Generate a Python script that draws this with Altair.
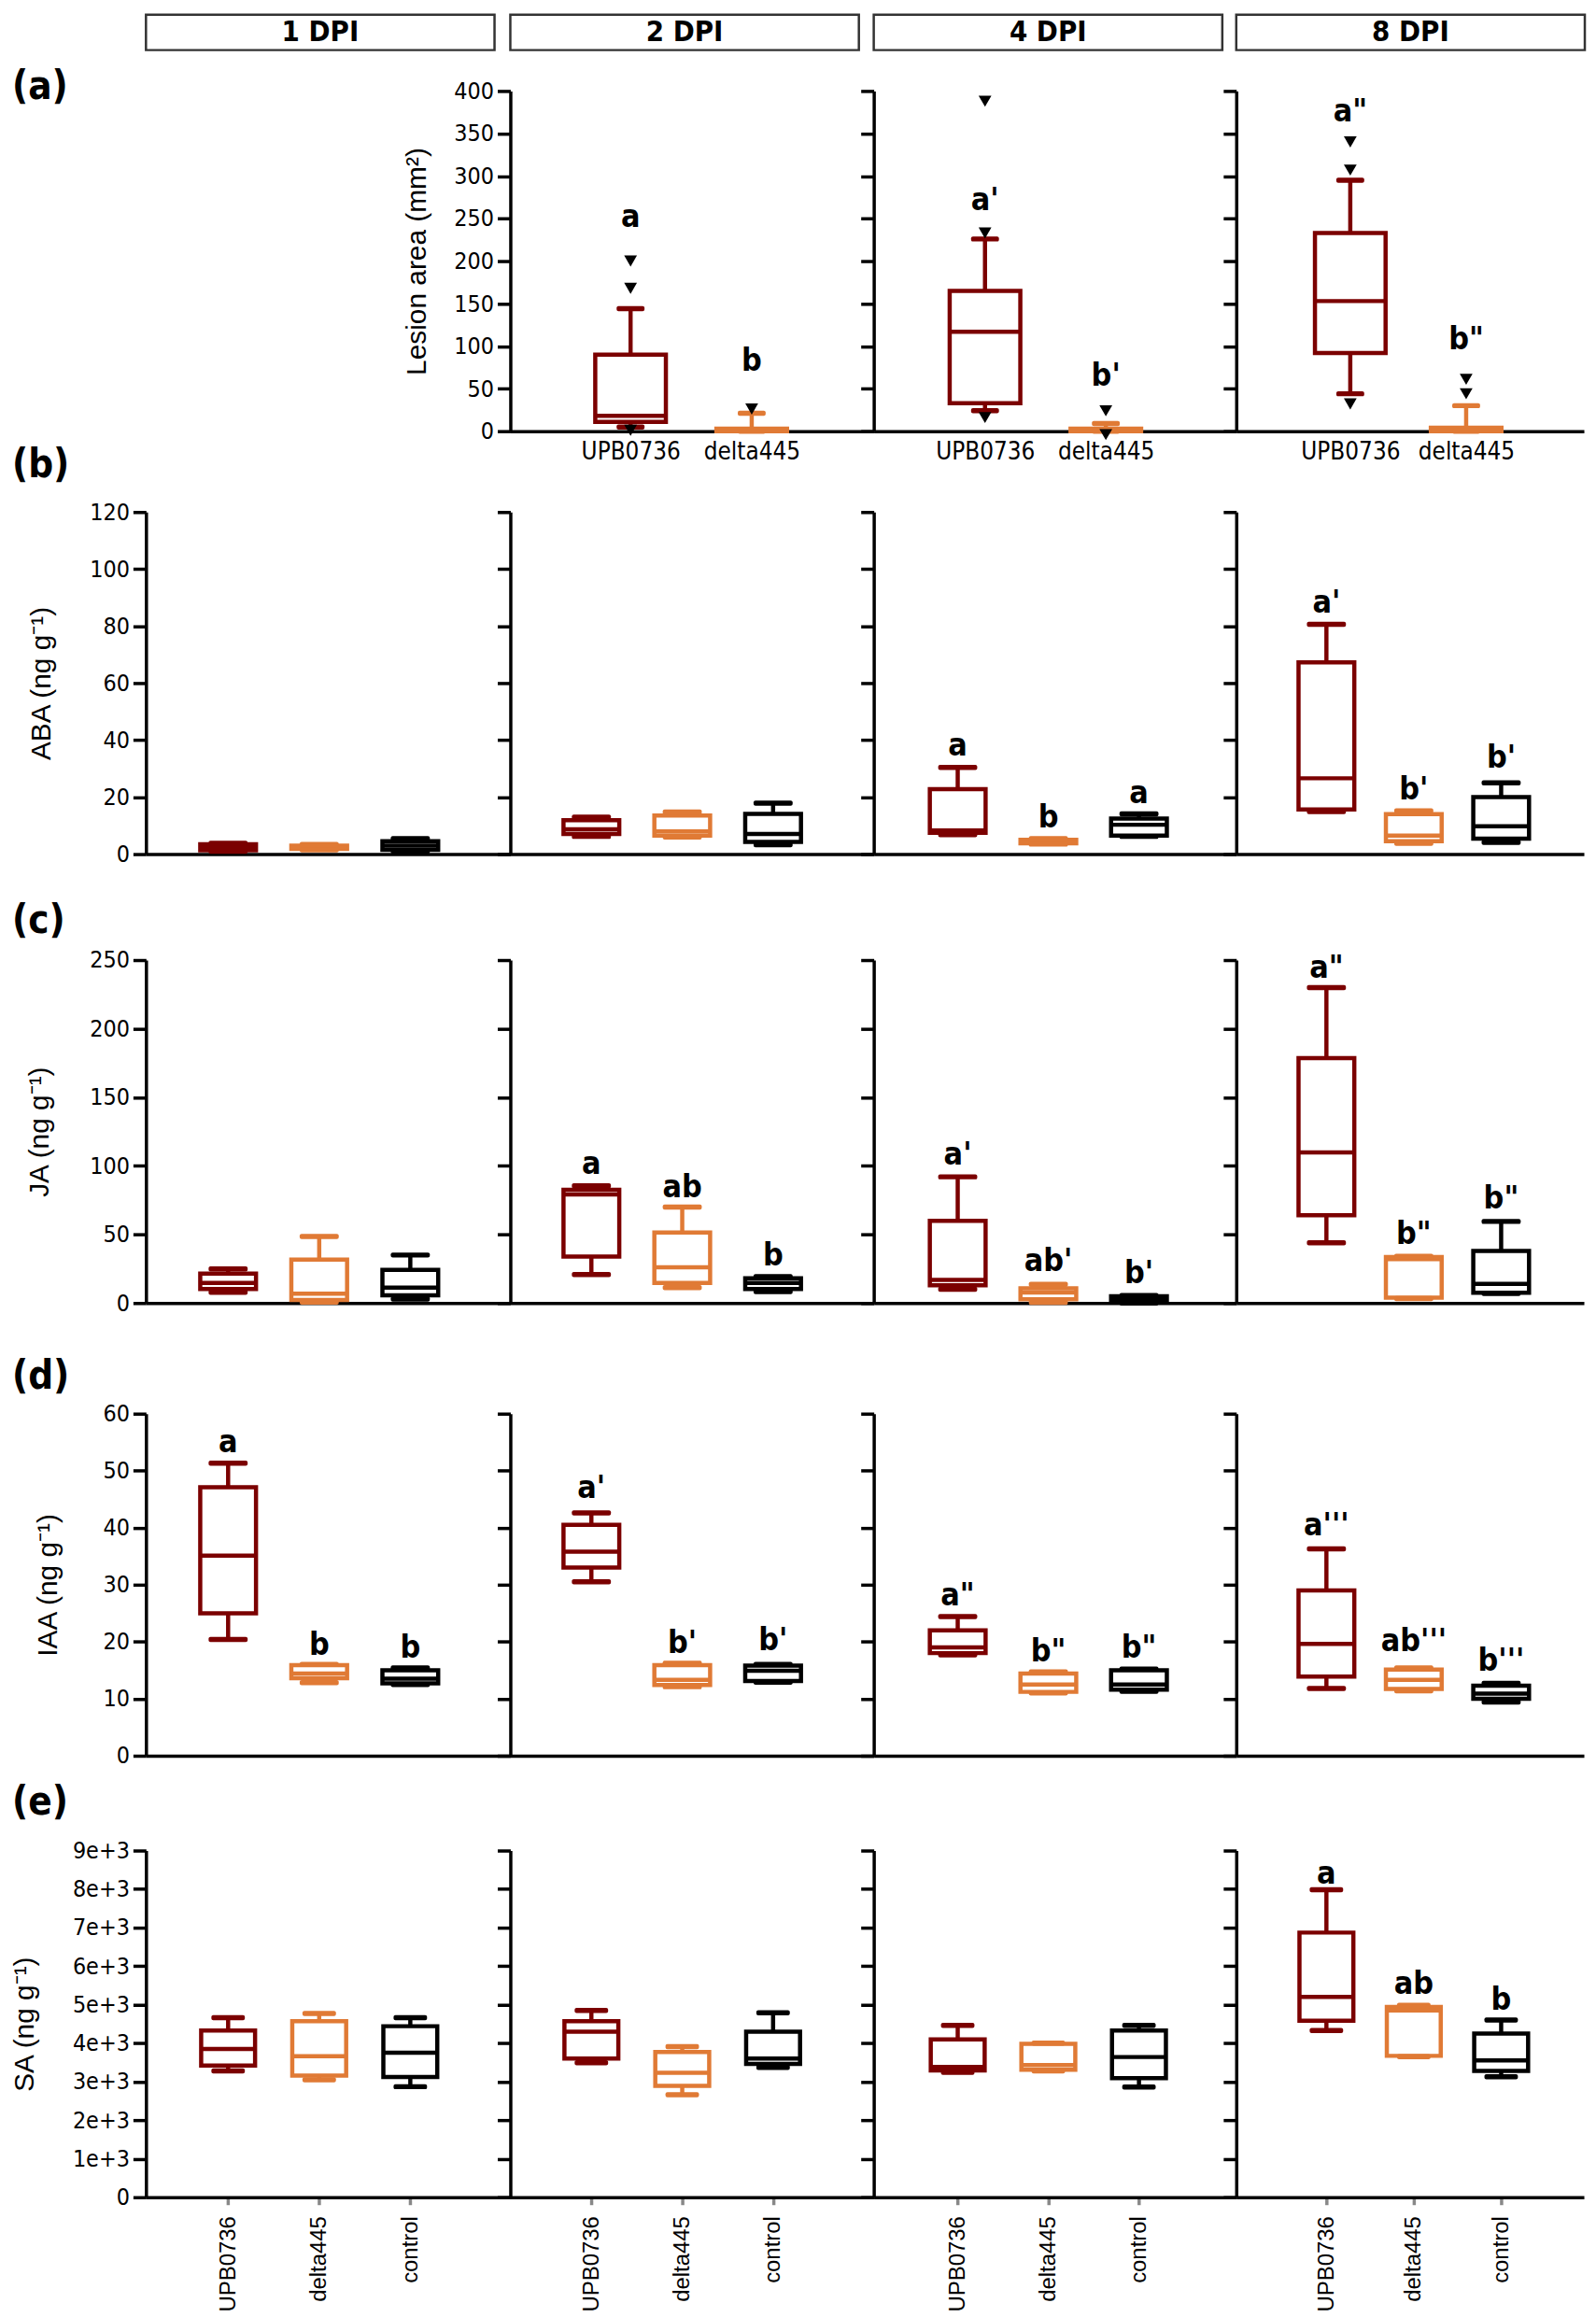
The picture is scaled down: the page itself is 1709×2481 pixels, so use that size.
import altair as alt
import pandas as pd

GENOS = ["UPB0736", "delta445", "control"]
GENOS_A = ["UPB0736", "delta445"]
COLORS = ["#7B0000", "#E07A35", "#000000"]
DPIS = ["1 DPI", "2 DPI", "4 DPI", "8 DPI"]

# box statistics: (min, q1, median, q3, max) per genotype
# (a) lesion area (mm2)
LESION_2 = [(5, 11, 18, 90, 144), (0, 0, 1, 3, 21)]
LESION_4 = [(24, 33, 117, 165, 226), (0, 0, 1, 3, 9)]
LESION_8 = [(44, 92, 153, 233, 295), (0, 0, 1, 4, 30)]
LESION_2_OUT = [[200, 168, 1], [26]]
LESION_4_OUT = [[388, 233, 16], [24, -4]]
LESION_8_OUT = [[340, 307, 32], [61, 44]]
LESION_2_LAB, LESION_2_LY = ["a", "b"], [251, 82]
LESION_4_LAB, LESION_4_LY = ["a'", "b'"], [271, 64]
LESION_8_LAB, LESION_8_LY = ['a"', 'b"'], [375, 107]

# (b) ABA
ABA_1 = [(1.0, 1.3, 2.2, 3.5, 3.8), (1.5, 1.8, 2.3, 3.0, 3.4), (1.0, 1.5, 3.0, 4.5, 5.4)]
ABA_2 = [(6.2, 7.1, 8.7, 11.9, 13.0), (6.0, 6.5, 8.0, 13.5, 14.8), (3.3, 4.3, 7.1, 14.1, 17.9)]
ABA_4 = [(6.8, 7.5, 8.3, 22.8, 30.4), (3.5, 3.8, 4.3, 5.0, 5.4), (6.2, 6.5, 10.3, 12.5, 14.1)]
ABA_8 = [(14.9, 15.7, 26.6, 67.3, 80.6), (3.8, 4.5, 6.5, 14.0, 15.2), (4.1, 5.4, 9.8, 20.0, 25.0)]
ABA_1_LAB, ABA_1_LY = [], []
ABA_2_LAB, ABA_2_LY = [], []
ABA_4_LAB, ABA_4_LY = ["a", "b", "a"], [38, 12.5, 21]
ABA_8_LAB, ABA_8_LY = ["a'", "b'", "b'"], [88, 22.5, 33.7]

# (c) JA
JA_1 = [(7.9, 10.2, 14.7, 21.5, 24.9), (0.7, 2.3, 6.8, 31.7, 48.6), (2.9, 5.7, 11.3, 24.2, 35.0)]
JA_2 = [(20.8, 33.9, 79.2, 82.6, 85.5), (11.3, 14.7, 26.0, 51.4, 70.0), (8.4, 10.2, 14.7, 18.0, 19.2)]
JA_4 = [(10.0, 12.9, 16.8, 60.0, 92.0), (0.5, 2.7, 7.7, 10.7, 13.6), (0.0, 0.5, 2.3, 5.0, 5.4)]
JA_8 = [(44.0, 64.0, 109.8, 178.6, 230.0), (3.2, 4.0, 32.0, 33.5, 34.0), (7.0, 7.5, 14.0, 38.0, 59.5)]
JA_1_LAB, JA_1_LY = [], []
JA_2_LAB, JA_2_LY = ["a", "ab", "b"], [100.7, 83.7, 34]
JA_4_LAB, JA_4_LY = ["a'", "ab'", "b'"], [108, 30, 21]
JA_8_LAB, JA_8_LY = ['a"', 'b"', 'b"'], [244, 50, 76]

# (d) IAA
IAA_1 = [(20.4, 25.0, 35.1, 47.1, 51.3), (12.8, 13.6, 14.4, 15.9, 16.0), (12.5, 12.7, 13.5, 15.0, 15.4)]
IAA_2 = [(30.5, 33.0, 35.8, 40.5, 42.6), (12.1, 12.4, 13.3, 15.9, 16.2), (12.9, 13.1, 14.9, 15.8, 16.0)]
IAA_4 = [(17.7, 18.0, 19.0, 22.0, 24.4), (11.0, 11.2, 12.5, 14.4, 14.7), (11.3, 11.6, 12.5, 15.0, 15.2)]
IAA_8 = [(11.8, 13.9, 19.6, 29.0, 36.3), (11.4, 11.7, 13.3, 15.1, 15.4), (9.4, 10.0, 10.9, 12.3, 12.7)]
IAA_1_LAB, IAA_1_LY = ["a", "b", "b"], [54.8, 19.3, 18.8]
IAA_2_LAB, IAA_2_LY = ["a'", "b'", "b'"], [46.8, 19.6, 20.1]
IAA_4_LAB, IAA_4_LY = ['a"', 'b"', 'b"'], [28, 18.2, 18.8]
IAA_8_LAB, IAA_8_LY = ["a'''", "ab'''", "b'''"], [40.3, 19.9, 16.6]

# (e) SA
SA_1 = [(3280, 3420, 3850, 4330, 4660), (3050, 3160, 3660, 4570, 4770), (2870, 3120, 3750, 4440, 4660)]
SA_2 = [(3490, 3600, 4300, 4570, 4850), (2660, 2890, 3230, 3770, 3910), (3370, 3460, 3600, 4300, 4790)]
SA_4 = [(3240, 3290, 3380, 4100, 4460), (3280, 3310, 3430, 3980, 4000), (2860, 3090, 3640, 4330, 4460)]
SA_8 = [(4330, 4580, 5200, 6870, 7980), (3650, 3670, 4850, 4940, 4980), (3130, 3280, 3550, 4250, 4600)]
SA_1_LAB, SA_1_LY = [], []
SA_2_LAB, SA_2_LY = [], []
SA_4_LAB, SA_4_LY = [], []
SA_8_LAB, SA_8_LY = ["a", "ab", "b"], [8390, 5530, 5120]

# ---------------- layout / style ----------------
NARROW = "Liberation Sans Narrow, Arial Narrow, DejaVu Sans Condensed, sans-serif"
REG = "Liberation Sans, Arial, sans-serif"
COL_W = [392, 391, 390, 374]
HEADER_H = 38
HEADER_W = 375
LW = 4.5

XAXIS_NONE = alt.Axis(labels=False, ticks=False, domainWidth=3.5, domainColor="black")
XAXIS_A = alt.Axis(labels=True, ticks=False, labelAngle=0, labelFont=NARROW, labelFontSize=26,
                   labelPadding=9, domainWidth=3.5, domainColor="black", labelColor="black")
XAXIS_E = alt.Axis(labels=True, ticks=True, tickSize=8, tickWidth=3.5, labelAngle=270,
                   labelFont=REG, labelFontSize=24, labelPadding=12, domainWidth=3.5,
                   domainColor="black", labelColor="black")

ROW_A = dict(domain=[0, 400], ticks=list(range(0, 401, 50)), h=410, gap=44,
             title="Lesion area (mm²)", titleX=-100, xaxis=XAXIS_A, label="(a)", dy=62,
             box=76, cap=30, xpos=[None, (134, 121), (122, 125), (123, 124)])
ROW_B = dict(domain=[0, 120], ticks=list(range(0, 121, 20)), h=455, gap=87,
             title="ABA (ng g⁻¹)", titleX=-112, xaxis=XAXIS_NONE, label="(b)", dy=59,
             box=60, cap=42, xpos=[(92, 94), (91, 93.5), (94.5, 93), (97, 94)])
ROW_C = dict(domain=[0, 250], ticks=list(range(0, 251, 50)), h=483, gap=114,
             title="JA (ng g⁻¹)", titleX=-114, xaxis=XAXIS_NONE, label="(c)", dy=94,
             box=60, cap=42, xpos=[(92, 94), (91, 93.5), (94.5, 93), (97, 94)])
ROW_D = dict(domain=[0, 60], ticks=list(range(0, 61, 10)), h=487, gap=119,
             title="IAA (ng g⁻¹)", titleX=-105, xaxis=XAXIS_NONE, label="(d)", dy=101,
             box=60, cap=42, xpos=[(92, 94), (91, 93.5), (94.5, 93), (97, 94)])
ROW_E = dict(domain=[0, 9000], ticks=list(range(0, 9001, 1000)), h=475, gap=102,
             title="SA (ng g⁻¹)", titleX=-130, xaxis=XAXIS_E, label="(e)", dy=72,
             box=58, cap=36, xpos=[(92, 94), (91, 93.5), (94.5, 93), (97, 94)],
             labelExpr="datum.value == 0 ? '0' : format(datum.value / 1000, 'd') + 'e+3'")

COLOR = alt.Color("g:N", scale=alt.Scale(domain=GENOS, range=COLORS), legend=None)
STROKE = alt.Stroke("g:N", scale=alt.Scale(domain=GENOS, range=COLORS), legend=None)


def panel_title(R):
    return alt.TitleParams(text=R["label"], anchor="start", frame="group", orient="top",
                           offset=0, baseline="top", dx=-144, dy=R["dy"], fontSize=42,
                           font=NARROW, fontWeight="bold", color="black")


def make_panel(stats, labs, lys, genos, col, R, outl=None, show_labels=False, with_title=False):
    W = COL_W[col]
    n = len(genos)
    left, step = R["xpos"][col]
    po = (W / step - (n - 1)) / 2
    al = left / (2 * po * step)
    df = pd.DataFrame({
        "g": genos,
        "lo": [s[0] for s in stats],
        "q1": [s[1] for s in stats],
        "med": [s[2] for s in stats],
        "q3": [s[3] for s in stats],
        "hi": [s[4] for s in stats],
        "lab": labs if labs else [""] * n,
        "ly": lys if lys else [0] * n,
    })
    xscale = alt.Scale(type="point", domain=genos, padding=po, align=al)
    X = alt.X("g:N", scale=xscale, axis=R["xaxis"], title=None)
    yscale = alt.Scale(domain=R["domain"], range=[R["h"], R["gap"]], nice=False, zero=False)
    ak = dict(values=R["ticks"], tickSize=14, tickWidth=3.5, domainWidth=3.5, grid=False,
              domainColor="black", tickColor="black")
    if show_labels:
        ak.update(labels=True, labelFont=NARROW, labelFontSize=25, labelPadding=4,
                  labelColor="black", title=R["title"], titleFont=REG, titleFontSize=30,
                  titleFontWeight="normal", titleX=R["titleX"], titleBaseline="middle",
                  titleColor="black")
        if "labelExpr" in R:
            ak.update(labelExpr=R["labelExpr"])
    else:
        ak.update(labels=False)
    yaxis = alt.Axis(**ak)
    ytitle = R["title"] if show_labels else None

    def Y(f):
        return alt.Y(f"{f}:Q", scale=yscale, axis=yaxis, title=ytitle)

    base = alt.Chart(df).encode(x=X)
    whisk = base.mark_rule(strokeWidth=LW, opacity=1).encode(y=Y("lo"), y2="hi:Q", color=COLOR)
    box = base.mark_bar(size=R["box"], fill="white", strokeWidth=LW, opacity=1).encode(
        y=Y("q1"), y2="q3:Q", stroke=STROKE)
    med = base.mark_tick(orient="horizontal", size=R["box"], thickness=LW, opacity=1).encode(
        y=Y("med"), color=COLOR)
    caplo = base.mark_tick(orient="horizontal", size=R["cap"], thickness=LW + 1, opacity=1,
                           cornerRadius=2).encode(y=Y("lo"), color=COLOR)
    caphi = base.mark_tick(orient="horizontal", size=R["cap"], thickness=LW + 1, opacity=1,
                           cornerRadius=2).encode(y=Y("hi"), color=COLOR)
    layers = [whisk, box, med, caplo, caphi]
    if outl:
        og, ov = [], []
        for g, vals in zip(genos, outl):
            for v in vals:
                og.append(g)
                ov.append(v)
        odf = pd.DataFrame({"g": og, "v": ov})
        pts = alt.Chart(odf).mark_point(shape="triangle-down", filled=True, size=190,
                                         color="black", opacity=1).encode(x=X, y=Y("v"))
        layers.append(pts)
    txt = base.mark_text(font=NARROW, fontSize=34, fontWeight="bold", color="black",
                         baseline="middle").encode(y=Y("ly"), text="lab:N")
    layers.append(txt)
    props = dict(width=W, height=R["h"])
    if with_title:
        props["title"] = panel_title(R)
    return alt.layer(*layers).properties(**props)


cells = []
# header row
for d in DPIS:
    cells.append(
        alt.Chart(pd.DataFrame({"t": [d]})).mark_text(
            font=NARROW, fontSize=31, fontWeight="bold", color="black").encode(
            text="t:N").properties(width=HEADER_W, height=HEADER_H,
                                   view=alt.ViewBackground(stroke="#333333", strokeWidth=2.5)))

# row (a)
cells.append(
    alt.Chart(pd.DataFrame({"t": [""]})).mark_text().encode(text="t:N").properties(
        width=COL_W[0], height=ROW_A["h"], title=panel_title(ROW_A)))
cells.append(make_panel(LESION_2, LESION_2_LAB, LESION_2_LY, GENOS_A, 1, ROW_A,
                        outl=LESION_2_OUT, show_labels=True))
cells.append(make_panel(LESION_4, LESION_4_LAB, LESION_4_LY, GENOS_A, 2, ROW_A,
                        outl=LESION_4_OUT))
cells.append(make_panel(LESION_8, LESION_8_LAB, LESION_8_LY, GENOS_A, 3, ROW_A,
                        outl=LESION_8_OUT))

ROW_DATA = [
    (ROW_B, [(ABA_1, ABA_1_LAB, ABA_1_LY), (ABA_2, ABA_2_LAB, ABA_2_LY),
             (ABA_4, ABA_4_LAB, ABA_4_LY), (ABA_8, ABA_8_LAB, ABA_8_LY)]),
    (ROW_C, [(JA_1, JA_1_LAB, JA_1_LY), (JA_2, JA_2_LAB, JA_2_LY),
             (JA_4, JA_4_LAB, JA_4_LY), (JA_8, JA_8_LAB, JA_8_LY)]),
    (ROW_D, [(IAA_1, IAA_1_LAB, IAA_1_LY), (IAA_2, IAA_2_LAB, IAA_2_LY),
             (IAA_4, IAA_4_LAB, IAA_4_LY), (IAA_8, IAA_8_LAB, IAA_8_LY)]),
    (ROW_E, [(SA_1, SA_1_LAB, SA_1_LY), (SA_2, SA_2_LAB, SA_2_LY),
             (SA_4, SA_4_LAB, SA_4_LY), (SA_8, SA_8_LAB, SA_8_LY)]),
]
for R, panels in ROW_DATA:
    for c, (st, lb, ly) in enumerate(panels):
        cells.append(make_panel(st, lb, ly, GENOS, c, R, show_labels=(c == 0),
                                with_title=(c == 0)))

chart = alt.concat(*cells, columns=4, spacing=0, bounds="flush", align="each").properties(
    padding={"left": 3, "top": 0, "right": 2, "bottom": 0}
).configure_view(stroke="transparent").configure_axis(grid=False)

chart.save("out.html", embed_options={"renderer": "svg", "actions": False})
